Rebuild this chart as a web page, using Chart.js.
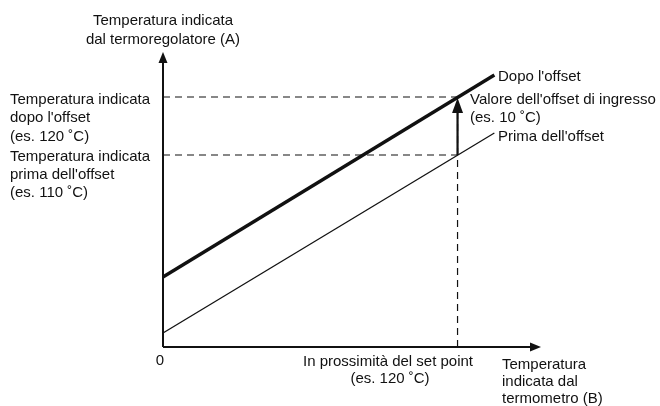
<!DOCTYPE html>
<html>
<head>
<meta charset="utf-8">
<script src="https://cdn.jsdelivr.net/npm/chart.js@4/dist/chart.umd.min.js"></script>
<style>
  html, body { margin: 0; padding: 0; background: #fff; }
  canvas { display: block; }
</style>
</head>
<body>
<canvas id="offset-chart" width="660" height="406"></canvas>
<script>
// schematic units: x = thermometer temperature, y = indicated temperature (not to scale)
const lineX = [0, 135];
const afterOffset = [70, 272];
const beforeOffset = [14, 214];
const setPoint = 120;
const afterAtSet = 250;
const beforeAtSet = 192;
const xMax = 154;
const yMax = 295;

const FONT = '15px "Liberation Sans", Arial, sans-serif';

function pts(xs, ys) {
  return xs.map((x, i) => ({ x: x, y: ys[i] }));
}

function arrowHead(ctx, x, y, dir, len, half) {
  // dir: 'up' or 'right'
  ctx.beginPath();
  if (dir === 'up') {
    ctx.moveTo(x, y);
    ctx.lineTo(x - half, y + len);
    ctx.lineTo(x + half, y + len);
  } else {
    ctx.moveTo(x, y);
    ctx.lineTo(x - len, y - half);
    ctx.lineTo(x - len, y + half);
  }
  ctx.closePath();
  ctx.fill();
}

// axes, arrows and all the text
const annotations = {
  id: 'annotations',
  afterDatasetsDraw(chart) {
    const ctx = chart.ctx;
    const xs = chart.scales.x;
    const ys = chart.scales.y;
    const x0 = xs.getPixelForValue(0);
    const y0 = ys.getPixelForValue(0);
    const xEnd = xs.getPixelForValue(xMax);
    const yTop = ys.getPixelForValue(yMax);

    ctx.save();
    ctx.strokeStyle = '#111';
    ctx.fillStyle = '#111';
    ctx.lineWidth = 2;
    ctx.setLineDash([]);
    ctx.beginPath();
    ctx.moveTo(x0, y0);
    ctx.lineTo(x0, yTop + 8);
    ctx.moveTo(x0, y0);
    ctx.lineTo(xEnd - 8, y0);
    ctx.stroke();
    arrowHead(ctx, x0, yTop, 'up', 11, 4.5);
    arrowHead(ctx, xEnd, y0, 'right', 11, 4.5);

    // offset arrow head
    const sx = xs.getPixelForValue(setPoint);
    arrowHead(ctx, sx, ys.getPixelForValue(afterAtSet) + 1, 'up', 15, 5.5);

    ctx.font = FONT;
    ctx.textBaseline = 'middle';

    ctx.textAlign = 'center';
    ctx.fillText('Temperatura indicata', x0, 21);
    ctx.fillText('dal termoregolatore (A)', x0, 40);

    ctx.textAlign = 'left';
    const left = 10;
    ctx.fillText('Temperatura indicata', left, 100);
    ctx.fillText("dopo l'offset", left, 118);
    ctx.fillText('(es. 120 ˚C)', left, 137);
    ctx.fillText('Temperatura indicata', left, 157);
    ctx.fillText("prima dell'offset", left, 175);
    ctx.fillText('(es. 110 ˚C)', left, 193);

    ctx.fillText("Dopo l'offset", 498, 77);
    ctx.fillText("Valore dell'offset di ingresso", 470, 100);
    ctx.fillText('(es. 10 ˚C)', 470, 118);
    ctx.fillText("Prima dell'offset", 498, 137);

    ctx.textAlign = 'center';
    ctx.fillText('0', 160, 361);
    ctx.fillText('In prossimità del set point', 388, 362);
    ctx.fillText('(es. 120 ˚C)', 390, 379);

    ctx.textAlign = 'left';
    ctx.fillText('Temperatura', 502, 365);
    ctx.fillText('indicata dal', 502, 382);
    ctx.fillText('termometro (B)', 502, 399);
    ctx.restore();
  }
};

const dashed = {
  borderColor: '#111',
  borderWidth: 1.2,
  borderDash: [7, 5],
  pointRadius: 0,
  showLine: true,
  clip: false
};

new Chart(document.getElementById('offset-chart'), {
  type: 'scatter',
  data: {
    datasets: [
      Object.assign({ data: pts([0, setPoint], [afterAtSet, afterAtSet]) }, dashed),
      Object.assign({ data: pts([0, setPoint], [beforeAtSet, beforeAtSet]) }, dashed),
      Object.assign({ data: pts([setPoint, setPoint], [0, afterAtSet]) }, dashed),
      {
        label: "Dopo l'offset",
        data: pts(lineX, afterOffset),
        borderColor: '#111',
        borderWidth: 3.4,
        pointRadius: 0,
        showLine: true,
        clip: false
      },
      {
        label: "Prima dell'offset",
        data: pts(lineX, beforeOffset),
        borderColor: '#111',
        borderWidth: 1.3,
        pointRadius: 0,
        showLine: true,
        clip: false
      },
      {
        label: 'offset',
        data: pts([setPoint, setPoint], [beforeAtSet, afterAtSet - 14]),
        borderColor: '#111',
        borderWidth: 2.2,
        pointRadius: 0,
        showLine: true,
        clip: false
      }
    ]
  },
  options: {
    responsive: false,
    animation: false,
    devicePixelRatio: 1,
    layout: { padding: { left: 163, right: 119, top: 52, bottom: 59 } },
    plugins: { legend: { display: false }, tooltip: { enabled: false } },
    scales: {
      x: { type: 'linear', min: 0, max: xMax, display: false },
      y: { type: 'linear', min: 0, max: yMax, display: false }
    }
  },
  plugins: [annotations]
});
</script>
</body>
</html>
